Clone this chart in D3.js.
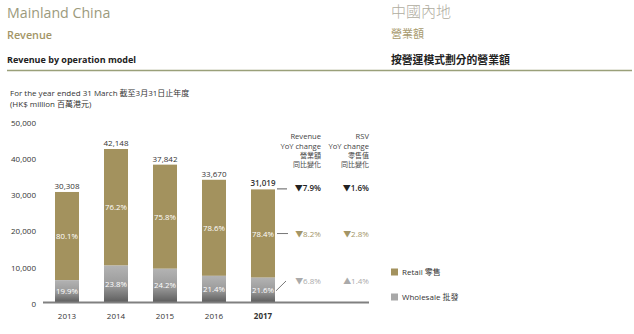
<!DOCTYPE html>
<html><head><meta charset="utf-8">
<script src="https://cdn.jsdelivr.net/npm/d3@7"></script>
<style>
body{margin:0;background:#fff;}
svg{display:block;font-family:"Open Sans","Noto Sans CJK TC",sans-serif;}
</style></head><body>
<svg id="c" width="634" height="334"></svg>
<script>
const years = ["2013","2014","2015","2016","2017"];
const totals = [30308, 42148, 37842, 33670, 31019];
const totalLabels = ["30,308","42,148","37,842","33,670","31,019"];
const retailPct = [80.1, 76.2, 75.8, 78.6, 78.4];
const wholesalePct = [19.9, 23.8, 24.2, 21.4, 21.6];
const yTicks = [0, 10000, 20000, 30000, 40000, 50000];
const revenueYoY = ["▼7.9%", "▼8.2%", "▼6.8%"];
const rsvYoY = ["▼1.6%", "▼2.8%", "▲1.4%"];

const svg = d3.select("#c");
const CJK = "'Noto Sans CJK TC',sans-serif";
const olive = "#a3925e";
const titleCol = "#9b9a7c";

const defs = svg.append("defs");
const g1 = defs.append("linearGradient").attr("id","gw").attr("x1",0).attr("y1",0).attr("x2",0).attr("y2",1);
g1.append("stop").attr("offset","0%").attr("stop-color","#b3b3b3");
g1.append("stop").attr("offset","55%").attr("stop-color","#9a9a9a");
g1.append("stop").attr("offset","100%").attr("stop-color","#5e5e5e");

// headings
svg.append("text").attr("x",7).attr("y",18).attr("font-size",14.2).attr("fill",titleCol).text("Mainland China");
svg.append("text").attr("x",7).attr("y",39).attr("font-size",10.8).attr("font-weight",600).attr("fill","#a39566").text("Revenue");
svg.append("text").attr("x",7).attr("y",63).attr("font-size",9).attr("font-weight",700).attr("fill","#222").text("Revenue by operation model");
svg.append("text").attr("x",391).attr("y",17).attr("font-size",15).attr("font-family",CJK).attr("font-weight",300).attr("fill","#b0ad9f").text("中國內地");
svg.append("text").attr("x",391).attr("y",38).attr("font-size",11).attr("font-family",CJK).attr("fill","#a89a6e").text("營業額");
svg.append("text").attr("x",391).attr("y",64).attr("font-size",10.8).attr("font-weight",700).attr("font-family",CJK).attr("fill","#222").text("按營運模式劃分的營業額");
svg.append("line").attr("x1",7).attr("x2",632).attr("y1",70.5).attr("y2",70.5).attr("stroke","#9aa07a").attr("stroke-width",1.5);

svg.append("text").attr("x",10).attr("y",96).attr("font-size",8).attr("fill","#333").text("For the year ended 31 March 截至3月31日止年度");
svg.append("text").attr("x",10).attr("y",107).attr("font-size",8).attr("fill","#333").text("(HK$ million 百萬港元)");

const x = d3.scaleBand().domain(years).range([42.5, 287.5]).paddingInner(0.51).paddingOuter(0.255);
const y = d3.scaleLinear().domain([0, 50000]).range([302, 120.5]);

const yAxis = d3.axisLeft(y).tickValues(yTicks).tickFormat(d3.format(",")).tickSize(0).tickPadding(0);
const ya = svg.append("g").attr("transform","translate(36,2)").call(yAxis);
ya.select(".domain").remove();
ya.selectAll("text").attr("font-size",8).attr("fill","#333").attr("font-family","'Open Sans',sans-serif");

const data = years.map((yr,i)=>({yr, total: totals[i], lab: totalLabels[i],
  ws: totals[i]*wholesalePct[i]/100, rp: retailPct[i], wp: wholesalePct[i]}));

svg.selectAll("rect.r").data(data).join("rect").attr("class","r")
  .attr("x",d=>x(d.yr)).attr("width",x.bandwidth())
  .attr("y",d=>y(d.total)).attr("height",d=>y(d.ws)-y(d.total)).attr("fill",olive);
svg.selectAll("rect.w").data(data).join("rect").attr("class","w")
  .attr("x",d=>x(d.yr)).attr("width",x.bandwidth())
  .attr("y",d=>y(d.ws)).attr("height",d=>y(0)-y(d.ws)).attr("fill","url(#gw)");

svg.selectAll("text.rp").data(data).join("text").attr("class","rp")
  .attr("x",d=>x(d.yr)+x.bandwidth()/2).attr("y",d=>(y(d.total)+y(d.ws))/2+3)
  .attr("text-anchor","middle").attr("font-size",7.8).attr("fill","#fff").text(d=>d.rp.toFixed(1)+"%");
svg.selectAll("text.wp").data(data).join("text").attr("class","wp")
  .attr("x",d=>x(d.yr)+x.bandwidth()/2).attr("y",d=>(y(d.ws)+y(0))/2+3)
  .attr("text-anchor","middle").attr("font-size",7.8).attr("fill","#fff").text(d=>d.wp.toFixed(1)+"%");

svg.selectAll("text.t").data(data).join("text").attr("class","t")
  .attr("x",d=>x(d.yr)+x.bandwidth()/2).attr("y",d=>y(d.total)-3)
  .attr("text-anchor","middle").attr("font-size",8).attr("fill","#333")
  .attr("font-weight",(d,i)=>i===years.length-1?600:400).text(d=>d.lab);

svg.append("line").attr("x1",43).attr("x2",369).attr("y1",y(0)+0.5).attr("y2",y(0)+0.5).attr("stroke","#808080").attr("stroke-width",1.8);

const xAxis = d3.axisBottom(x).tickSize(0).tickPadding(0);
const xa = svg.append("g").attr("transform",`translate(0,${y(0)+11})`).call(xAxis);
xa.select(".domain").remove();
xa.selectAll("text").attr("font-size",8).attr("fill","#333").attr("font-family","'Open Sans',sans-serif")
  .attr("font-weight",(d,i)=>i===years.length-1?700:400);

const hdr = [["Revenue","YoY change","營業額","同比變化"],["RSV","YoY change","零售值","同比變化"]];
const hx = [321, 369];
const hy = [138.5, 148.5, 157.5, 166.5];
hdr.forEach((col,ci)=>col.forEach((t,ri)=>{
  svg.append("text").attr("x",hx[ci]).attr("y",hy[ri]).attr("text-anchor","end")
    .attr("font-size", ri<2?7.6:7).attr("font-family", ri<2?"'Open Sans',sans-serif":CJK)
    .attr("fill","#444").text(t);
}));

const last = data[data.length-1];
const bx = x(last.yr)+x.bandwidth();
const rowY = [y(last.total)+2, (y(last.total)+y(last.ws))/2, 284];
const rowCol = ["#222", "#a39566", "#aaaaaa"];
svg.append("line").attr("x1",bx+2).attr("x2",bx+12).attr("y1",rowY[0]-2.5).attr("y2",rowY[0]-2.5).attr("stroke","#333").attr("stroke-width",0.8);
svg.append("line").attr("x1",bx+2).attr("x2",bx+13).attr("y1",rowY[1]).attr("y2",rowY[1]).attr("stroke","#666").attr("stroke-width",0.9);
svg.append("line").attr("x1",bx+1).attr("x2",bx+11).attr("y1",(y(last.ws)+y(0))/2+1).attr("y2",rowY[2]-3).attr("stroke","#555").attr("stroke-width",0.8);

revenueYoY.forEach((t,i)=>{
  svg.append("text").attr("x",321).attr("y",rowY[i]+(i===1?3:0)).attr("text-anchor","end").attr("font-size",8)
    .attr("font-weight",i===0?600:400).attr("fill",rowCol[i]).text(t);
  svg.append("text").attr("x",369).attr("y",rowY[i]+(i===1?3:0)).attr("text-anchor","end").attr("font-size",8)
    .attr("font-weight",i===0?600:400).attr("fill",rowCol[i]).text(rsvYoY[i]);
});

const legend = [["Retail 零售", olive], ["Wholesale 批發", "#a8a8a8"]];
legend.forEach((l,i)=>{
  const ly = 272 + i*25;
  svg.append("rect").attr("x",391).attr("y",ly-3.5).attr("width",7).attr("height",7).attr("fill",l[1]);
  svg.append("text").attr("x",402).attr("y",ly+3).attr("font-size",8).attr("fill","#333").text(l[0]);
});
</script></body></html>
